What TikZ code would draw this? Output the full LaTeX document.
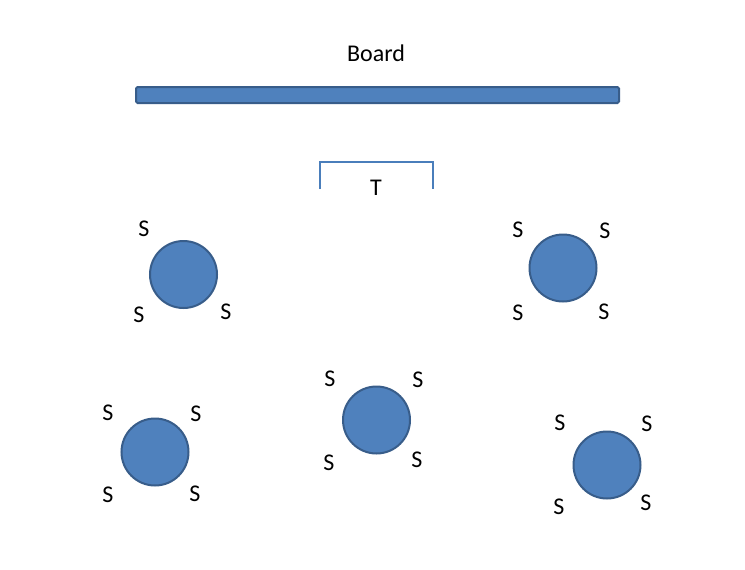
\documentclass[tikz,border=0pt]{standalone}
\usepackage{fontspec}
\setmainfont{Carlito}
\begin{document}
\begin{tikzpicture}[x=1pt,y=-1pt,
  lbl/.style={font=\fontsize{24}{28}\selectfont, inner sep=0pt},
  desk/.style={circle, draw=deskline, fill=deskfill, line width=2pt, minimum size=67pt, inner sep=0pt},
  boardbox/.style={draw=deskline, fill=deskfill, line width=2pt, rounded corners=1.5pt}]
\definecolor{deskfill}{HTML}{4F81BD}
\definecolor{deskline}{HTML}{385D8A}
\definecolor{tline}{HTML}{4A7EBB}
\useasboundingbox (0,0) rectangle (745,570);
\fill[white] (0,0) rectangle (745,570);
% board
\draw[boardbox] (136,87) rectangle (619,103);
\node[lbl] (board) at (376,53) {Board};
% teacher
\coordinate (tl) at (320,189);
\coordinate (tr) at (433,189);
\draw[tline, line width=2.5pt] (tl) -- (320,162) -- (433,162) -- (tr);
\node[lbl] (t) at (376,188) {T};
% desks
\node[desk] (d1) at (183.5,274.5) {};
\node[lbl] (s1a) at (144,229) {S};
\node[lbl] (s1b) at (139,315) {S};
\node[lbl] (s1c) at (226,312) {S};
\node[desk] (d2) at (563,268) {};
\node[lbl] (s2a) at (518,230) {S};
\node[lbl] (s2b) at (605,231) {S};
\node[lbl] (s2c) at (518,313) {S};
\node[lbl] (s2d) at (604,312) {S};
\node[desk] (d3) at (376.5,420) {};
\node[lbl] (s3a) at (330,379) {S};
\node[lbl] (s3b) at (418,380) {S};
\node[lbl] (s3c) at (329,463) {S};
\node[lbl] (s3d) at (417,460) {S};
\node[desk] (d4) at (155,452) {};
\node[lbl] (s4a) at (108,413) {S};
\node[lbl] (s4b) at (196,414) {S};
\node[lbl] (s4c) at (108,495) {S};
\node[lbl] (s4d) at (195,494) {S};
\node[desk] (d5) at (607,465) {};
\node[lbl] (s5a) at (560,423) {S};
\node[lbl] (s5b) at (647,424) {S};
\node[lbl] (s5c) at (559,507) {S};
\node[lbl] (s5d) at (646,503) {S};
\end{tikzpicture}
\end{document}
